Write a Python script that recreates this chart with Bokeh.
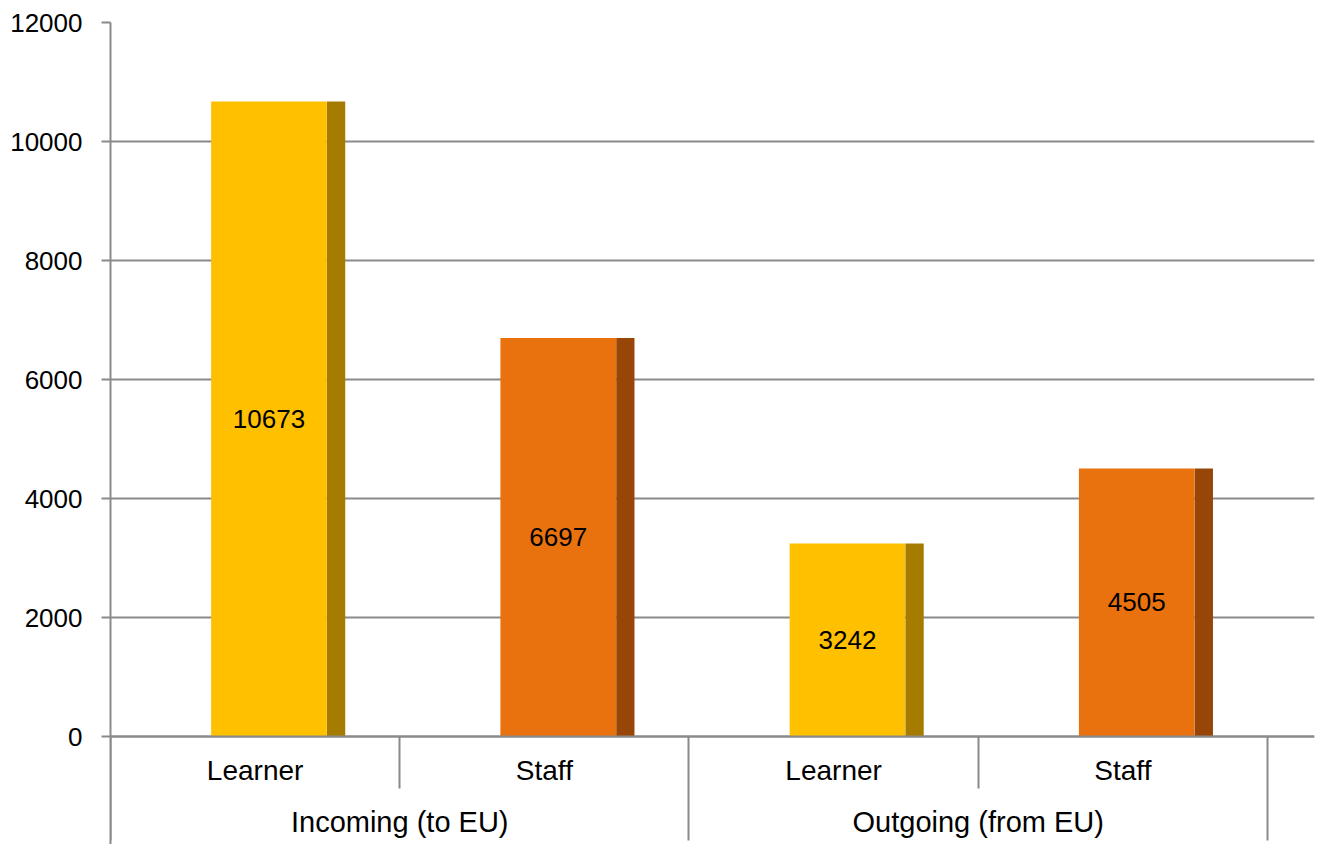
from bokeh.plotting import figure
from bokeh.models import LinearAxis, FixedTicker, Range1d, ColumnDataSource
from bokeh.embed import file_html
from bokeh.resources import INLINE
from bokeh.core.properties import value

# ---- data ----
groups = ["Incoming (to EU)", "Outgoing (from EU)"]
subgroups = ["Learner", "Staff"]
counts = [10673, 6697, 3242, 4505]          # Incoming Learner, Incoming Staff, Outgoing Learner, Outgoing Staff
front_colors = ["#FFC000", "#E9720F"]       # per subgroup
side_colors = ["#A67C00", "#984607"]
y_ticks = [0, 2000, 4000, 6000, 8000, 10000, 12000]

FONT = "Liberation Sans"
GRAY = "#8A8A8A"
FS = "26px"
CAT_FS = "28px"
GRP_FS = "29px"

n_sub = len(subgroups)
n_slots = len(groups) * n_sub
slot_idx = list(range(n_slots))
front_x = [i + 0.5 + 0.048 for i in slot_idx]
side_x = [i + 0.5 + 0.28 for i in slot_idx]
fcol = [front_colors[i % n_sub] for i in slot_idx]
scol = [side_colors[i % n_sub] for i in slot_idx]
labels = [str(c) for c in counts]
label_y = [c / 2 for c in counts]

src = ColumnDataSource(dict(fx=front_x, sx=side_x, top=counts, fcol=fcol, scol=scol,
                            lab=labels, ly=label_y))

p = figure(width=1317, height=844,
           x_range=Range1d(0, 4.1625), y_range=Range1d(-1815, 12000),
           output_backend="svg", toolbar_location=None, x_axis_location=None,
           min_border_left=110, min_border_right=3, min_border_top=22, min_border_bottom=0)
p.outline_line_color = None
p.background_fill_color = "white"
p.border_fill_color = "white"
p.xgrid.visible = False

# y axis
yax = p.yaxis[0]
yax.ticker = FixedTicker(ticks=y_ticks)
yax.major_tick_out = 9
yax.major_tick_in = 0
yax.minor_tick_line_color = None
yax.axis_line_color = GRAY
yax.axis_line_width = 2
yax.major_tick_line_color = GRAY
yax.major_tick_line_width = 2
yax.major_label_text_font = FONT
yax.major_label_text_font_size = FS
yax.major_label_text_color = "black"
yax.major_label_standoff = 19

p.ygrid.ticker = FixedTicker(ticks=y_ticks)
p.ygrid.grid_line_color = GRAY
p.ygrid.grid_line_width = 2

# bars
p.vbar(x="fx", top="top", bottom=0, width=0.40, fill_color="fcol", line_color=None, source=src)
p.vbar(x="sx", top="top", bottom=0, width=0.063, fill_color="scol", line_color=None, source=src)
p.text(x="fx", y="ly", text="lab", source=src, text_font=value(FONT), text_font_size=FS,
       text_align="center", text_baseline="middle", text_color="black")

# separators + base line
sep = LinearAxis(ticker=FixedTicker(ticks=[i for i in range(0, n_slots + 1, n_sub)],
                                    minor_ticks=[i for i in range(1, n_slots) if i % n_sub]),
                 fixed_location=0,
                 major_tick_out=104, major_tick_in=0, minor_tick_out=52, minor_tick_in=0,
                 major_tick_line_color=GRAY, major_tick_line_width=2,
                 minor_tick_line_color=GRAY, minor_tick_line_width=2,
                 axis_line_color=GRAY, axis_line_width=2,
                 major_label_text_color=None)
p.add_layout(sep, "below")

# inner labels
inner = LinearAxis(ticker=FixedTicker(ticks=[i + 0.5 for i in slot_idx]),
                   major_label_overrides={i + 0.5: subgroups[i % n_sub] for i in slot_idx},
                   fixed_location=0, major_tick_out=0, major_tick_in=0,
                   major_tick_line_color=None, minor_tick_line_color=None, axis_line_color=None,
                   major_label_standoff=18, major_label_text_font=FONT,
                   major_label_text_font_size=CAT_FS, major_label_text_color="black")
p.add_layout(inner, "below")

# group labels
outer = LinearAxis(ticker=FixedTicker(ticks=[g * n_sub + n_sub / 2 for g in range(len(groups))]),
                   major_label_overrides={g * n_sub + n_sub / 2: groups[g] for g in range(len(groups))},
                   fixed_location=0, major_tick_out=0, major_tick_in=0,
                   major_tick_line_color=None, minor_tick_line_color=None, axis_line_color=None,
                   major_label_standoff=69, major_label_text_font=FONT,
                   major_label_text_font_size=GRP_FS, major_label_text_color="black")
p.add_layout(outer, "below")

open("out.html", "w").write(file_html(p, INLINE))
